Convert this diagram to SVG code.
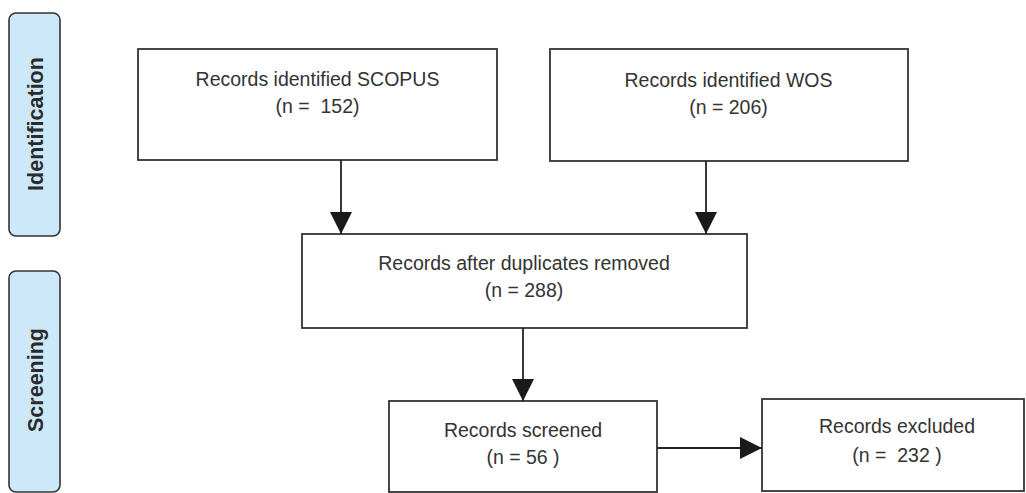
<svg xmlns="http://www.w3.org/2000/svg" width="1026" height="493" viewBox="0 0 1026 493">
<style>
  .phase { fill: #cde8f8; stroke: #333; stroke-width: 1.6; }
  .phase-label { font-family: "Liberation Sans", Arial, sans-serif; font-weight: bold; font-size: 21.5px; fill: #2b2b2b; text-anchor: middle; }
  .box { fill: #fff; stroke: #333; stroke-width: 1.8; }
  .label { font-family: "Liberation Sans", Arial, sans-serif; font-size: 19.5px; fill: #333; text-anchor: middle; white-space: pre; }
  .conn { stroke: #222; stroke-width: 1.8; fill: none; marker-end: url(#arrow); }
</style>
<defs>
  <marker id="arrow" markerUnits="userSpaceOnUse" markerWidth="22" markerHeight="22" refX="22" refY="11" orient="auto" viewBox="0 0 22 22">
    <path d="M0,0 L22,11 L0,22 z" fill="#1a1a1a"/>
  </marker>
</defs>
<rect width="1026" height="493" fill="#fff"/>

<g id="phase-identification">
  <rect class="phase" x="9" y="13" width="51" height="223" rx="7"/>
  <text class="phase-label" transform="translate(42.5,124) rotate(-90)">Identification</text>
</g>
<g id="phase-screening">
  <rect class="phase" x="9" y="271" width="51" height="221" rx="7"/>
  <text class="phase-label" transform="translate(42.5,380) rotate(-90)">Screening</text>
</g>

<g id="node-scopus">
  <rect class="box" x="138" y="49" width="359" height="111"/>
  <text class="label" x="317.5" y="86">Records identified SCOPUS</text>
  <text class="label" x="317.5" y="113">(n =  152)</text>
</g>
<g id="node-wos">
  <rect class="box" x="550" y="49" width="358" height="112"/>
  <text class="label" x="728.5" y="87">Records identified WOS</text>
  <text class="label" x="728.5" y="114">(n = 206)</text>
</g>
<g id="node-duplicates">
  <rect class="box" x="302" y="234" width="445" height="94"/>
  <text class="label" x="524" y="270">Records after duplicates removed</text>
  <text class="label" x="524" y="297">(n = 288)</text>
</g>
<g id="node-screened">
  <rect class="box" x="389" y="401" width="268" height="91"/>
  <text class="label" x="523" y="437">Records screened</text>
  <text class="label" x="523" y="464">(n = 56 )</text>
</g>
<g id="node-excluded">
  <rect class="box" x="762" y="399" width="262" height="92"/>
  <text class="label" x="897" y="433">Records excluded</text>
  <text class="label" x="897" y="462">(n =  232 )</text>
</g>

<g id="connectors">
  <line class="conn" x1="341" y1="160" x2="341" y2="234"/>
  <line class="conn" x1="706" y1="161" x2="706" y2="234"/>
  <line class="conn" x1="523" y1="328" x2="523" y2="401"/>
  <line class="conn" x1="657" y1="448" x2="762" y2="448"/>
</g>
</svg>
